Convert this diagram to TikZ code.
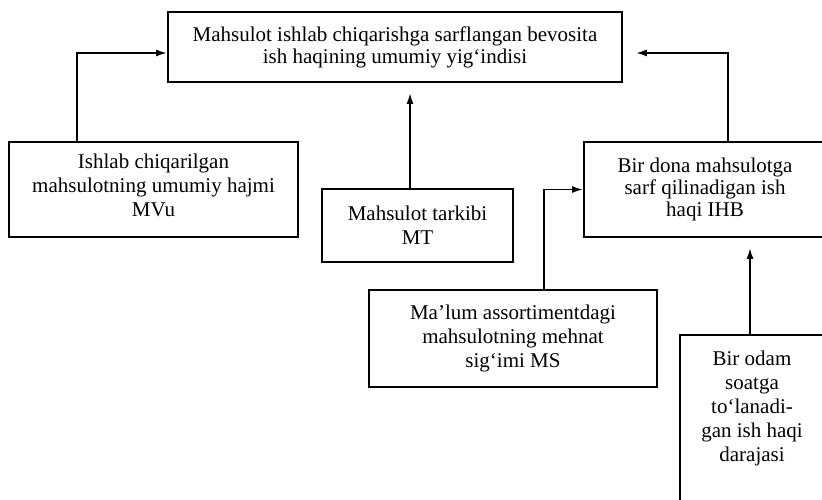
\documentclass[tikz,border=0pt]{standalone}
\usepackage{fontspec}
\setmainfont{Liberation Serif}
\usetikzlibrary{arrows.meta}
\begin{document}
\begin{tikzpicture}[x=1pt, y=1pt,
    box/.style={draw, line width=1.8pt, align=center, inner sep=0pt,
      font=\fontsize{21}{24}\selectfont},
    arr/.style={line width=1.8pt, -{Latex[length=11pt, width=7pt]}}]
    \useasboundingbox (0,0) rectangle (822,500);
    \clip (0,0) rectangle (822,500);
    % boxes
    \node [box, minimum width=454, minimum height=70] (sum) at (395,453)
      {Mahsulot ishlab chiqarishga sarflangan bevosita\\[-2pt]ish haqining umumiy yig‘indisi};
    \node [box, minimum width=289, minimum height=95, text depth=9pt] (mvu) at (153.5,310.5)
      {Ishlab chiqarilgan\\mahsulotning umumiy hajmi\\MVu};
    \node [box, minimum width=191, minimum height=73] (mt) at (417.5,274.5)
      {Mahsulot tarkibi\\MT};
    \node [box, minimum width=242, minimum height=95] (ihb) at (705,310.5)
      {Bir dona mahsulotga\\[-2pt]sarf qilinadigan ish\\[-2pt]haqi IHB};
    \node [box, minimum width=288, minimum height=97] (ms) at (513,161.5)
      {Ma’lum assortimentdagi\\mahsulotning mehnat\\sig‘imi MS};
    \node [box, minimum width=144, minimum height=180, text depth=38pt] (odam) at (752,75)
      {Bir odam\\soatga\\to‘lanadi-\\gan ish haqi\\darajasi};
    % arrows
    \draw[arr] (mvu.north -| 77,0) |- ([yshift=-6pt]sum.west);
    \draw[arr, shorten >=10pt] (mt.north -| 410,0) -- (sum.south -| 410,0);
    \draw[arr, shorten >=13pt] (ihb.north -| 728,0) |- ([yshift=-6pt]sum.east);
    \draw[arr] (ms.north -| 544,0) |- (ihb.west);
    \draw[arr, shorten >=10pt] (odam.north -| 750,0) -- (ihb.south -| 750,0);
\end{tikzpicture}
\end{document}
